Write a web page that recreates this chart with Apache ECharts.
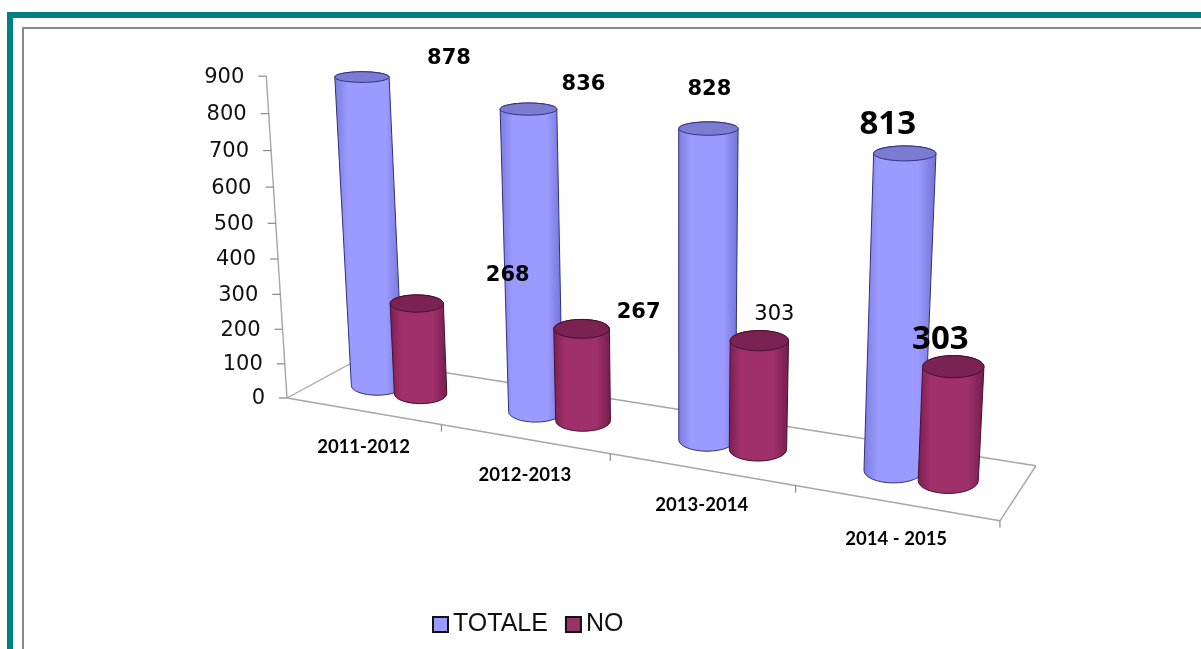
<!DOCTYPE html>
<html>
<head>
<meta charset="utf-8">
<style>html,body{margin:0;padding:0;background:#fff}#c{width:1201px;height:649px}</style>
<script src="https://cdn.jsdelivr.net/npm/echarts@6/dist/echarts.min.js"></script>
</head>
<body>
<div id="c"></div>
<script>
const categories = ['2011-2012', '2012-2013', '2013-2014', '2014 - 2015'];
const totale = [878, 836, 828, 813];
const no = [268, 267, 303, 303];
const yTicks = [0, 100, 200, 300, 400, 500, 600, 700, 800, 900];
const totaleLabels = ['878', '836', '828', '813'];
const noLabels = ['268', '267', '303', '303'];

// Layout: camera of the tilted 3D plot (vanishing points and weights)
const ORIGIN = [287, 398];
const VP = { c: [-3186, -200], h: [680, 6500], d: [1516, -268] };
const W = { c: -0.04258, h: -0.0501, d: 0.0622 };
function project(c, H, d) {
  const den = 1 + c * W.c + H * W.h + d * W.d;
  return {
    x: (ORIGIN[0] + c * W.c * VP.c[0] + H * W.h * VP.h[0] + d * W.d * VP.d[0]) / den,
    y: (ORIGIN[1] + c * W.c * VP.c[1] + H * W.h * VP.h[1] + d * W.d * VP.d[1]) / den,
    den
  };
}
const N = categories.length;
function toWorld(params, pt) {
  const cs = params.coordSys;
  return { c: (pt[0] - cs.x) / cs.width * N, H: (cs.y + cs.height - pt[1]) / cs.height };
}

const boldLabel = { fontFamily: 'DejaVu Sans', fontWeight: 'bold', fontSize: 21 };
const plainLabel = { fontFamily: 'DejaVu Sans', fontWeight: 'normal', fontSize: 21 };
const bigLabel = { fontFamily: 'Open Sans', fontWeight: 'bold', fontSize: 33 };

const totaleLook = {
  dc: [-0.148, -0.131, -0.124, -0.124], trim: [1, 0.991, 0.987, 0.981], d: 0.52,
  labels: totaleLabels,
  labelOffset: [[87, -19], [55, -25], [1, -39], [-17, -29]],
  labelFont: [boldLabel, boldLabel, boldLabel, bigLabel],
  stops: ['#7c7cdc', '#9a9aff', '#9a9aff', '#7272d2'],
  top: '#7b7bd2', edge: '#30307f'
};
const noLook = {
  dc: [0.148, 0.164, 0.164, 0.156], trim: [0.98, 0.96, 0.96, 0.965], d: 0.5,
  labels: noLabels,
  labelOffset: [[91, -28], [57, -16], [15, -26], [-13, -27]],
  labelFont: [boldLabel, boldLabel, plainLabel, bigLabel],
  stops: ['#7a1f50', '#a0306a', '#a0306a', '#741d4c'],
  top: '#7a2252', edge: '#45102e'
};
const RX0 = 26.3, RD = 0.24;

function cylinder(look) {
  return function (params, api) {
    const i = api.value(0), v = api.value(1);
    const base = toWorld(params, api.coord([i, 0]));
    const tip = toWorld(params, api.coord([i, v]));
    const c = base.c + look.dc[i];
    const tipH = tip.H * look.trim[i];
    const b = project(c, base.H, look.d), t = project(c, tipH, look.d);
    const rxB = RX0 / b.den, rxT = RX0 / t.den;
    const ryB = Math.abs(project(c, base.H, look.d - RD).y - project(c, base.H, look.d + RD).y) / 2;
    const ryT = Math.abs(project(c, tipH, look.d - RD).y - project(c, tipH, look.d + RD).y) / 2;
    const path = 'M' + (t.x - rxT) + ' ' + t.y + 'L' + (b.x - rxB) + ' ' + b.y +
      'A' + rxB + ' ' + ryB + ' 0 0 0 ' + (b.x + rxB) + ' ' + b.y +
      'L' + (t.x + rxT) + ' ' + t.y +
      'A' + rxT + ' ' + ryT + ' 0 0 0 ' + (t.x - rxT) + ' ' + t.y + 'Z';
    const off = look.labelOffset[i], font = look.labelFont[i];
    return {
      type: 'group',
      children: [
        {
          type: 'path', shape: { pathData: path },
          style: {
            fill: new echarts.graphic.LinearGradient(0, 0, 1, 0, [
              { offset: 0, color: look.stops[0] }, { offset: 0.2, color: look.stops[1] },
              { offset: 0.75, color: look.stops[2] }, { offset: 1, color: look.stops[3] }
            ]),
            stroke: look.edge, lineWidth: 1
          }
        },
        {
          type: 'ellipse', shape: { cx: t.x, cy: t.y, rx: rxT, ry: ryT },
          style: { fill: look.top, stroke: look.edge, lineWidth: 1 }
        },
        {
          type: 'text', z2: 50,
          style: Object.assign({
            text: look.labels[i], x: t.x + off[0], y: t.y + off[1],
            align: 'center', verticalAlign: 'middle', fill: '#000'
          }, font)
        }
      ]
    };
  };
}

function renderValueTick(params, api) {
  const v = api.value(1);
  const w = toWorld(params, api.coord([0, v]));
  const p = project(0, w.H, 0);
  const kids = [
    { type: 'line', shape: { x1: p.x - 8, y1: p.y, x2: p.x, y2: p.y }, style: { stroke: '#8a8a8a', lineWidth: 1.2 } },
    { type: 'text', style: { text: String(v), x: p.x - 22, y: p.y + 1, align: 'right', verticalAlign: 'middle',
        fill: '#111', fontFamily: 'DejaVu Sans', fontSize: 21 } }
  ];
  return { type: 'group', children: kids };
}

function renderFloor(params, api) {
  const i = api.value(0);
  const band = api.size([1, 0])[0];
  const mid = api.coord([i, 0]);
  const m = toWorld(params, mid);
  const edge = toWorld(params, [mid[0] + band / 2, mid[1]]);
  const lab = project(m.c, 0, 0);
  const tick = project(edge.c, 0, 0);
  const line = (a, b, w) => ({ type: 'line', shape: { x1: a.x, y1: a.y, x2: b.x, y2: b.y },
    style: { stroke: '#a6a6a6', lineWidth: w || 1.4 } });
  const kids = [
    { type: 'line', shape: { x1: tick.x, y1: tick.y, x2: tick.x, y2: tick.y + 7 }, style: { stroke: '#8a8a8a', lineWidth: 1.2 } },
    { type: 'text', style: { text: categories[i], x: lab.x + 1, y: lab.y + 36, align: 'center', verticalAlign: 'middle',
        fill: '#000', fontFamily: 'Lato', fontWeight: 'bold', fontSize: 18.5 } }
  ];
  if (i === 0) {
    const A = project(0, 0, 0), B = project(N, 0, 0), C = project(N, 0, 1), D = project(0, 0, 1), T = project(0, 1, 0);
    kids.push(line(A, B), line(B, C), line(C, D), line(A, D), line(A, T));
  }
  return { type: 'group', children: kids };
}

const chart = echarts.init(document.getElementById('c'), null, { renderer: 'canvas' });
chart.setOption({
  animation: false,
  backgroundColor: '#fff',
  grid: { left: 100, top: 100, width: 800, height: 400 },
  xAxis: { type: 'category', data: categories, show: false },
  yAxis: { type: 'value', min: 0, max: 900, interval: 100, show: false },
  legend: {
    left: 427, top: 607, itemWidth: 15, itemHeight: 15, itemGap: 17,
    textStyle: { fontFamily: 'Liberation Sans', fontSize: 25, color: '#111' },
    data: [
      { name: 'TOTALE', icon: 'rect', itemStyle: { color: '#9999ff', borderColor: '#111', borderWidth: 2 } },
      { name: 'NO', icon: 'rect', itemStyle: { color: '#993366', borderColor: '#111', borderWidth: 2 } }
    ]
  },
  graphic: [
    { type: 'rect', silent: true, shape: { x: 7, y: 12, width: 1194, height: 6 }, style: { fill: '#008080' } },
    { type: 'rect', silent: true, shape: { x: 7, y: 12, width: 6, height: 637 }, style: { fill: '#008080' } },
    { type: 'rect', silent: true, shape: { x: 22, y: 27, width: 1179, height: 2 }, style: { fill: '#898989' } },
    { type: 'rect', silent: true, shape: { x: 22, y: 27, width: 2, height: 622 }, style: { fill: '#898989' } }
  ],
  series: [
    { name: 'floor', type: 'custom', silent: true, z: 1, clip: false, renderItem: renderFloor,
      data: categories.map((_, i) => [i, 0]) },
    { name: 'ticks', type: 'custom', silent: true, z: 1, clip: false, renderItem: renderValueTick,
      data: yTicks.map(v => [0, v]) },
    { name: 'TOTALE', type: 'custom', z: 2, clip: false, renderItem: cylinder(totaleLook),
      itemStyle: { color: '#9999ff' }, data: totale.map((v, i) => [i, v]) },
    { name: 'NO', type: 'custom', z: 3, clip: false, renderItem: cylinder(noLook),
      itemStyle: { color: '#993366' }, data: no.map((v, i) => [i, v]) }
  ]
});
</script>
</body>
</html>
